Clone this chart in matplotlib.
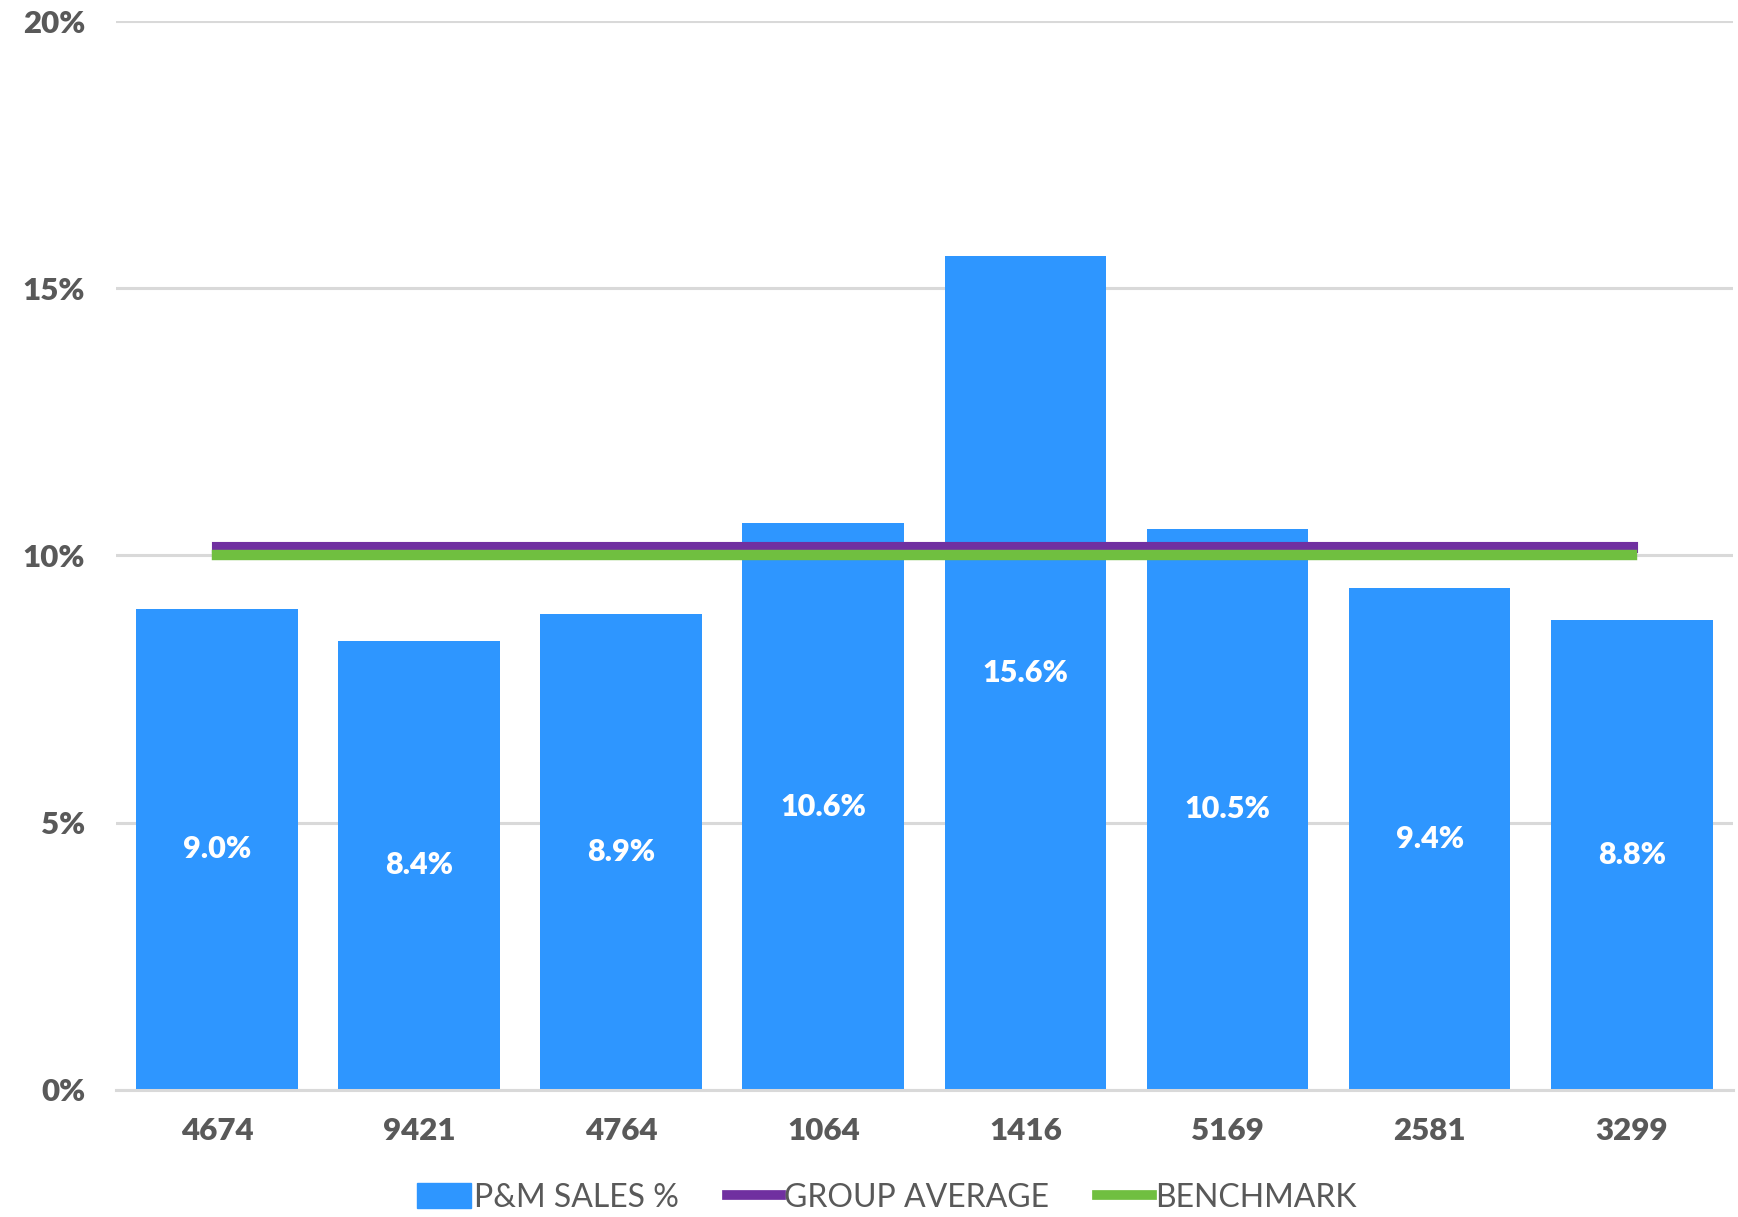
import numpy as np
import matplotlib.pyplot as plt
from matplotlib.patches import Patch
from matplotlib.lines import Line2D

plt.rcParams['font.family'] = ['Lato', 'DejaVu Sans']

# data
stores = ['4674', '9421', '4764', '1064', '1416', '5169', '2581', '3299']
pm_sales = [9.0, 8.4, 8.9, 10.6, 15.6, 10.5, 9.4, 8.8]
group_avg = 10.15
benchmark = 10.0

blue = '#2E96FF'
purple = '#7030A0'
green = '#70BF40'
grey = '#595959'

fig = plt.figure(figsize=(17.38, 12.17), dpi=100)
ax = fig.add_axes([0.0667, 0.1044, 0.9303, 0.8783])

x = np.arange(len(stores))
bars = ax.bar(x, pm_sales, width=0.80, color=blue, zorder=2)

for xi, v in zip(x, pm_sales):
    ax.text(xi, v / 2, '%.1f%%' % v, ha='center', va='center',
            color='white', fontsize=22, fontweight='heavy', zorder=4)

ax.plot([x[0], x[-1]], [group_avg, group_avg], color=purple, lw=8,
        solid_capstyle='projecting', zorder=3)
ax.plot([x[0], x[-1]], [benchmark, benchmark], color=green, lw=7.5,
        solid_capstyle='projecting', zorder=3)

ax.set_xlim(-0.5, 7.5)
ax.set_ylim(0, 20)
ax.set_yticks([0, 5, 10, 15, 20])
ax.set_yticklabels(['0%', '5%', '10%', '15%', '20%'], fontweight='heavy')
ax.set_xticks(x)
ax.set_xticklabels(stores, fontweight='heavy')
ax.tick_params(axis='both', length=0, labelsize=22.5, labelcolor=grey)
ax.tick_params(axis='y', pad=22)
ax.tick_params(axis='x', pad=19.5)

ax.grid(axis='y', color='#d9d9d9', lw=2.2, zorder=0)
ax.set_axisbelow(True)
for s in ['top', 'right', 'left']:
    ax.spines[s].set_visible(False)
ax.spines['bottom'].set_color('#d9d9d9')
ax.spines['bottom'].set_linewidth(2.2)

handles = [Patch(color=blue, label='P&M SALES %'),
           Line2D([0], [0], color=purple, lw=7, label='GROUP AVERAGE'),
           Line2D([0], [0], color=green, lw=7, label='BENCHMARK')]
leg = fig.legend(handles=handles, loc='center', bbox_to_anchor=(0.51, 0.016),
                 ncol=3, frameon=False, fontsize=23, handlelength=1.7,
                 handleheight=0.8, handletextpad=0.1, columnspacing=1.5)
for t in leg.get_texts():
    t.set_color(grey)

fig.savefig('out.png', dpi=100)
